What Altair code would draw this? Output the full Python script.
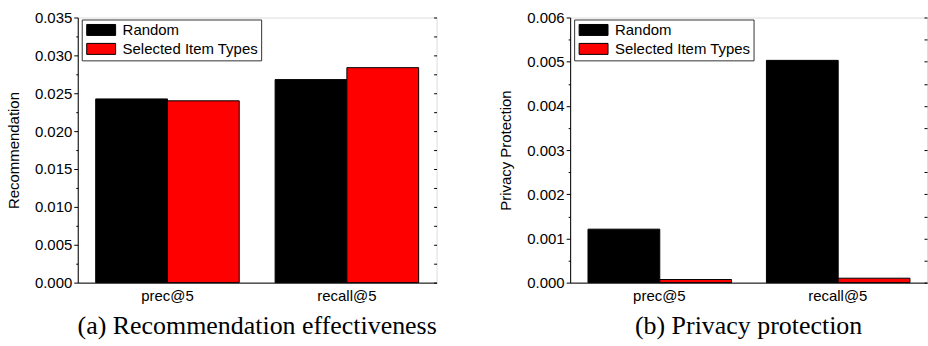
import altair as alt
import pandas as pd

# Metrics on the x axis and the two strategies being compared
metrics = ["prec@5", "recall@5"]
series = ["Random", "Selected Item Types"]

# Recommendation effectiveness (panel a)
rec_random = [0.02425, 0.02680]
rec_selected = [0.02400, 0.02838]

# Privacy protection (panel b)
priv_random = [0.00121, 0.00503]
priv_selected = [0.00007, 0.00010]

colors = ["#000000", "#ff0000"]
SANS = "Liberation Sans"
SERIF = "Liberation Serif"


def frame(rows_a, rows_b):
    return pd.DataFrame(
        [{"metric": m, "series": series[0], "value": v} for m, v in zip(metrics, rows_a)]
        + [{"metric": m, "series": series[1], "value": v} for m, v in zip(metrics, rows_b)]
    )


def panel(df, ymax, step, ytitle, caption, width):
    all_vals = [round(i * step / 2, 6) for i in range(int(round(2 * ymax / step)) + 1)]
    half = step / 2

    x = alt.X(
        "metric:N",
        sort=metrics,
        scale=alt.Scale(paddingInner=0.2, paddingOuter=0.1),
        axis=alt.Axis(
            title=None, labelAngle=0, labelFont=SANS, labelFontSize=15,
            labelColor="#000", labelPadding=6, ticks=False,
            domainColor="#000", domainWidth=1,
        ),
    )
    xoff = alt.XOffset("series:N", sort=series)
    yscale = alt.Scale(domain=[0, ymax], nice=False, zero=True)

    bars = alt.Chart(df).mark_bar(stroke="#000", strokeWidth=1).encode(
        x=x,
        xOffset=xoff,
        y=alt.Y(
            "value:Q",
            scale=yscale,
            axis=alt.Axis(
                title=ytitle, titleFont=SANS, titleFontSize=15,
                titleFontWeight="normal", titleColor="#000", titlePadding=13,
                values=all_vals, format=".3f",
                labelExpr=f"abs(round(datum.value / {half}) % 2) == 0 ? datum.label : ''",
                labelFont=SANS, labelFontSize=15, labelColor="#000",
                labelPadding=2, labelOverlap=False, labelFlush=False,
                tickSize={"condition": {"test": f"abs(round(datum.value / {half}) % 2) == 1", "value": 2}, "value": 4},
                tickColor="#000", domainColor="#000", grid=False,
            ),
        ),
        color=alt.Color(
            "series:N",
            sort=series,
            scale=alt.Scale(domain=series, range=colors),
            legend=alt.Legend(
                title=None, orient="none", legendX=4, legendY=2,
                symbolType="M-1,-1H4.27V1H-1Z", symbolSize=121,
                symbolStrokeColor="#000", symbolStrokeWidth=1,
                symbolOpacity=1,
                labelFont=SANS, labelFontSize=15, labelColor="#000",
                labelOffset=23, rowPadding=3,
                strokeColor="#333", fillColor="#fff", padding=3,
                cornerRadius=0,
            ),
        ),
    )

    # Inward ticks along the right edge of the frame
    right = alt.Chart(df).mark_bar(opacity=0).encode(
        x=x,
        xOffset=xoff,
        y=alt.Y(
            "value:Q",
            scale=yscale,
            axis=alt.Axis(
                orient="right", title=None, labels=False, domain=False,
                values=all_vals, tickSize=3, offset=-3, tickColor="#000",
                grid=False, minExtent=0, maxExtent=0, labelPadding=0,
            ),
        ),
    )

    return (
        alt.layer(bars, right)
        .resolve_axis(y="independent")
        .properties(
            width=width, height=266,
            title=alt.TitleParams(
                caption, orient="bottom", anchor="middle", font=SERIF,
                fontSize=26, fontWeight="normal", color="#000", offset=10,
            ),
        )
    )


left = panel(frame(rec_random, rec_selected), 0.035, 0.005,
             "Recommendation", "(a) Recommendation effectiveness", 360)
right = panel(frame(priv_random, priv_selected), 0.006, 0.001,
              "Privacy Protection", "(b) Privacy protection", 358)

chart = (
    alt.hconcat(left, right, spacing=60)
    .resolve_scale(color="independent")
    .configure_view(stroke="#000", strokeWidth=1)
    .configure(padding={"left": 5, "top": 9, "right": 0, "bottom": 0}, background="#ffffff")
)

chart.save("out.html", embed_options={"renderer": "svg", "actions": False})
